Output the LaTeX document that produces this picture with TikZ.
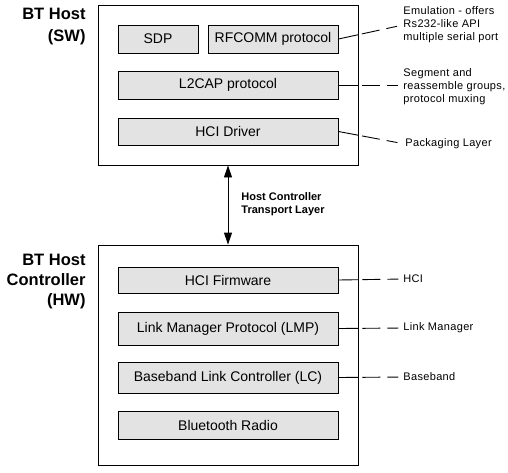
\documentclass[tikz,border=0pt]{standalone}
\usepackage{fontspec}
\setmainfont{Liberation Sans}
\newfontfamily\notefont[LetterSpace=3]{Liberation Sans}
\usetikzlibrary{arrows.meta}
\tikzstyle{stack}=[draw, inner sep=0pt, minimum width=260pt]
\tikzstyle{layer}=[draw, fill=black!11, inner sep=0pt, minimum width=220pt, font=\fontsize{14}{16}\selectfont]
\tikzstyle{side}=[align=right, anchor=east, inner sep=0pt, font=\fontsize{16.5}{20}\selectfont\bfseries]
\tikzstyle{note}=[align=left, anchor=west, inner sep=0pt, font=\fontsize{11}{13}\notefont]
\tikzstyle{leader}=[dash pattern=on 20pt off 4pt on 18pt off 7pt on 11pt off 200pt]

\begin{document}
\begin{tikzpicture}[x=1pt, y=-1pt, line width=0.9pt]
        \useasboundingbox (0, 0) rectangle (508, 472);
        % host side
        \node[stack, minimum height=160pt] (host) at (228, 85) {};
        \node[side, text depth=0pt] (hostlbl) at (86, 25) {BT Host\\[2pt](SW)};
        \node[layer, minimum width=80pt, minimum height=28pt] (sdp) at (158, 39) {SDP};
        \node[layer, minimum width=130pt, minimum height=28pt] (rfcomm) at (273, 39) {RFCOMM protocol};
        \node[layer, minimum height=28pt] (l2cap) at (228, 85) {L2CAP protocol};
        \node[layer, minimum height=27pt] (hcidrv) at (228, 131.5) {HCI Driver};
        % controller side
        \node[stack, minimum height=220pt] (ctrl) at (228, 355) {};
        \node[side] (ctrllbl) at (86, 282) {BT Host\\Controller\\(HW)};
        \node[layer, minimum height=26pt] (hcifw) at (228, 280) {HCI Firmware};
        \node[layer, minimum height=33pt] (lmp) at (228, 328.5) {Link Manager Protocol (LMP)};
        \node[layer, minimum height=31pt] (lc) at (228, 377.5) {Baseband Link Controller (LC)};
        \node[layer, minimum height=28pt] (radio) at (228, 425) {Bluetooth Radio};
        % transport
        \draw[{Triangle[width=8pt, length=12pt]}-{Triangle[width=8pt, length=12pt]}] (host.south) -- (ctrl.north);
        \node[note, font=\fontsize{11}{13}\selectfont\bfseries] (hctl) at (241, 204.5) {Host Controller\\Transport Layer};
        % notes
        \node[note] (emul) at (403, 25) {Emulation - offers\\Rs232-like API\\multiple serial port};
        \node[note] (segm) at (403, 86.5) {Segment and\\reassemble groups,\\protocol muxing};
        \node[note] (pack) at (405, 144) {Packaging Layer};
        \node[note] (hcin) at (403, 279) {HCI};
        \node[note] (lmn) at (403, 328) {Link Manager};
        \node[note] (bbn) at (403, 377) {Baseband};
        \draw[leader] (rfcomm.east) -- (emul.west);
        \draw[leader] (l2cap.east) -- (l2cap.east -| segm.west);
        \draw[leader] (hcidrv.east) -- (pack.west);
        \draw[leader] (hcifw.east) -- (hcin.west);
        \draw[leader] (lmp.east) -- (lmn.west);
        \draw[leader] (lc.east) -- (bbn.west);
    \end{tikzpicture}
\end{document}
